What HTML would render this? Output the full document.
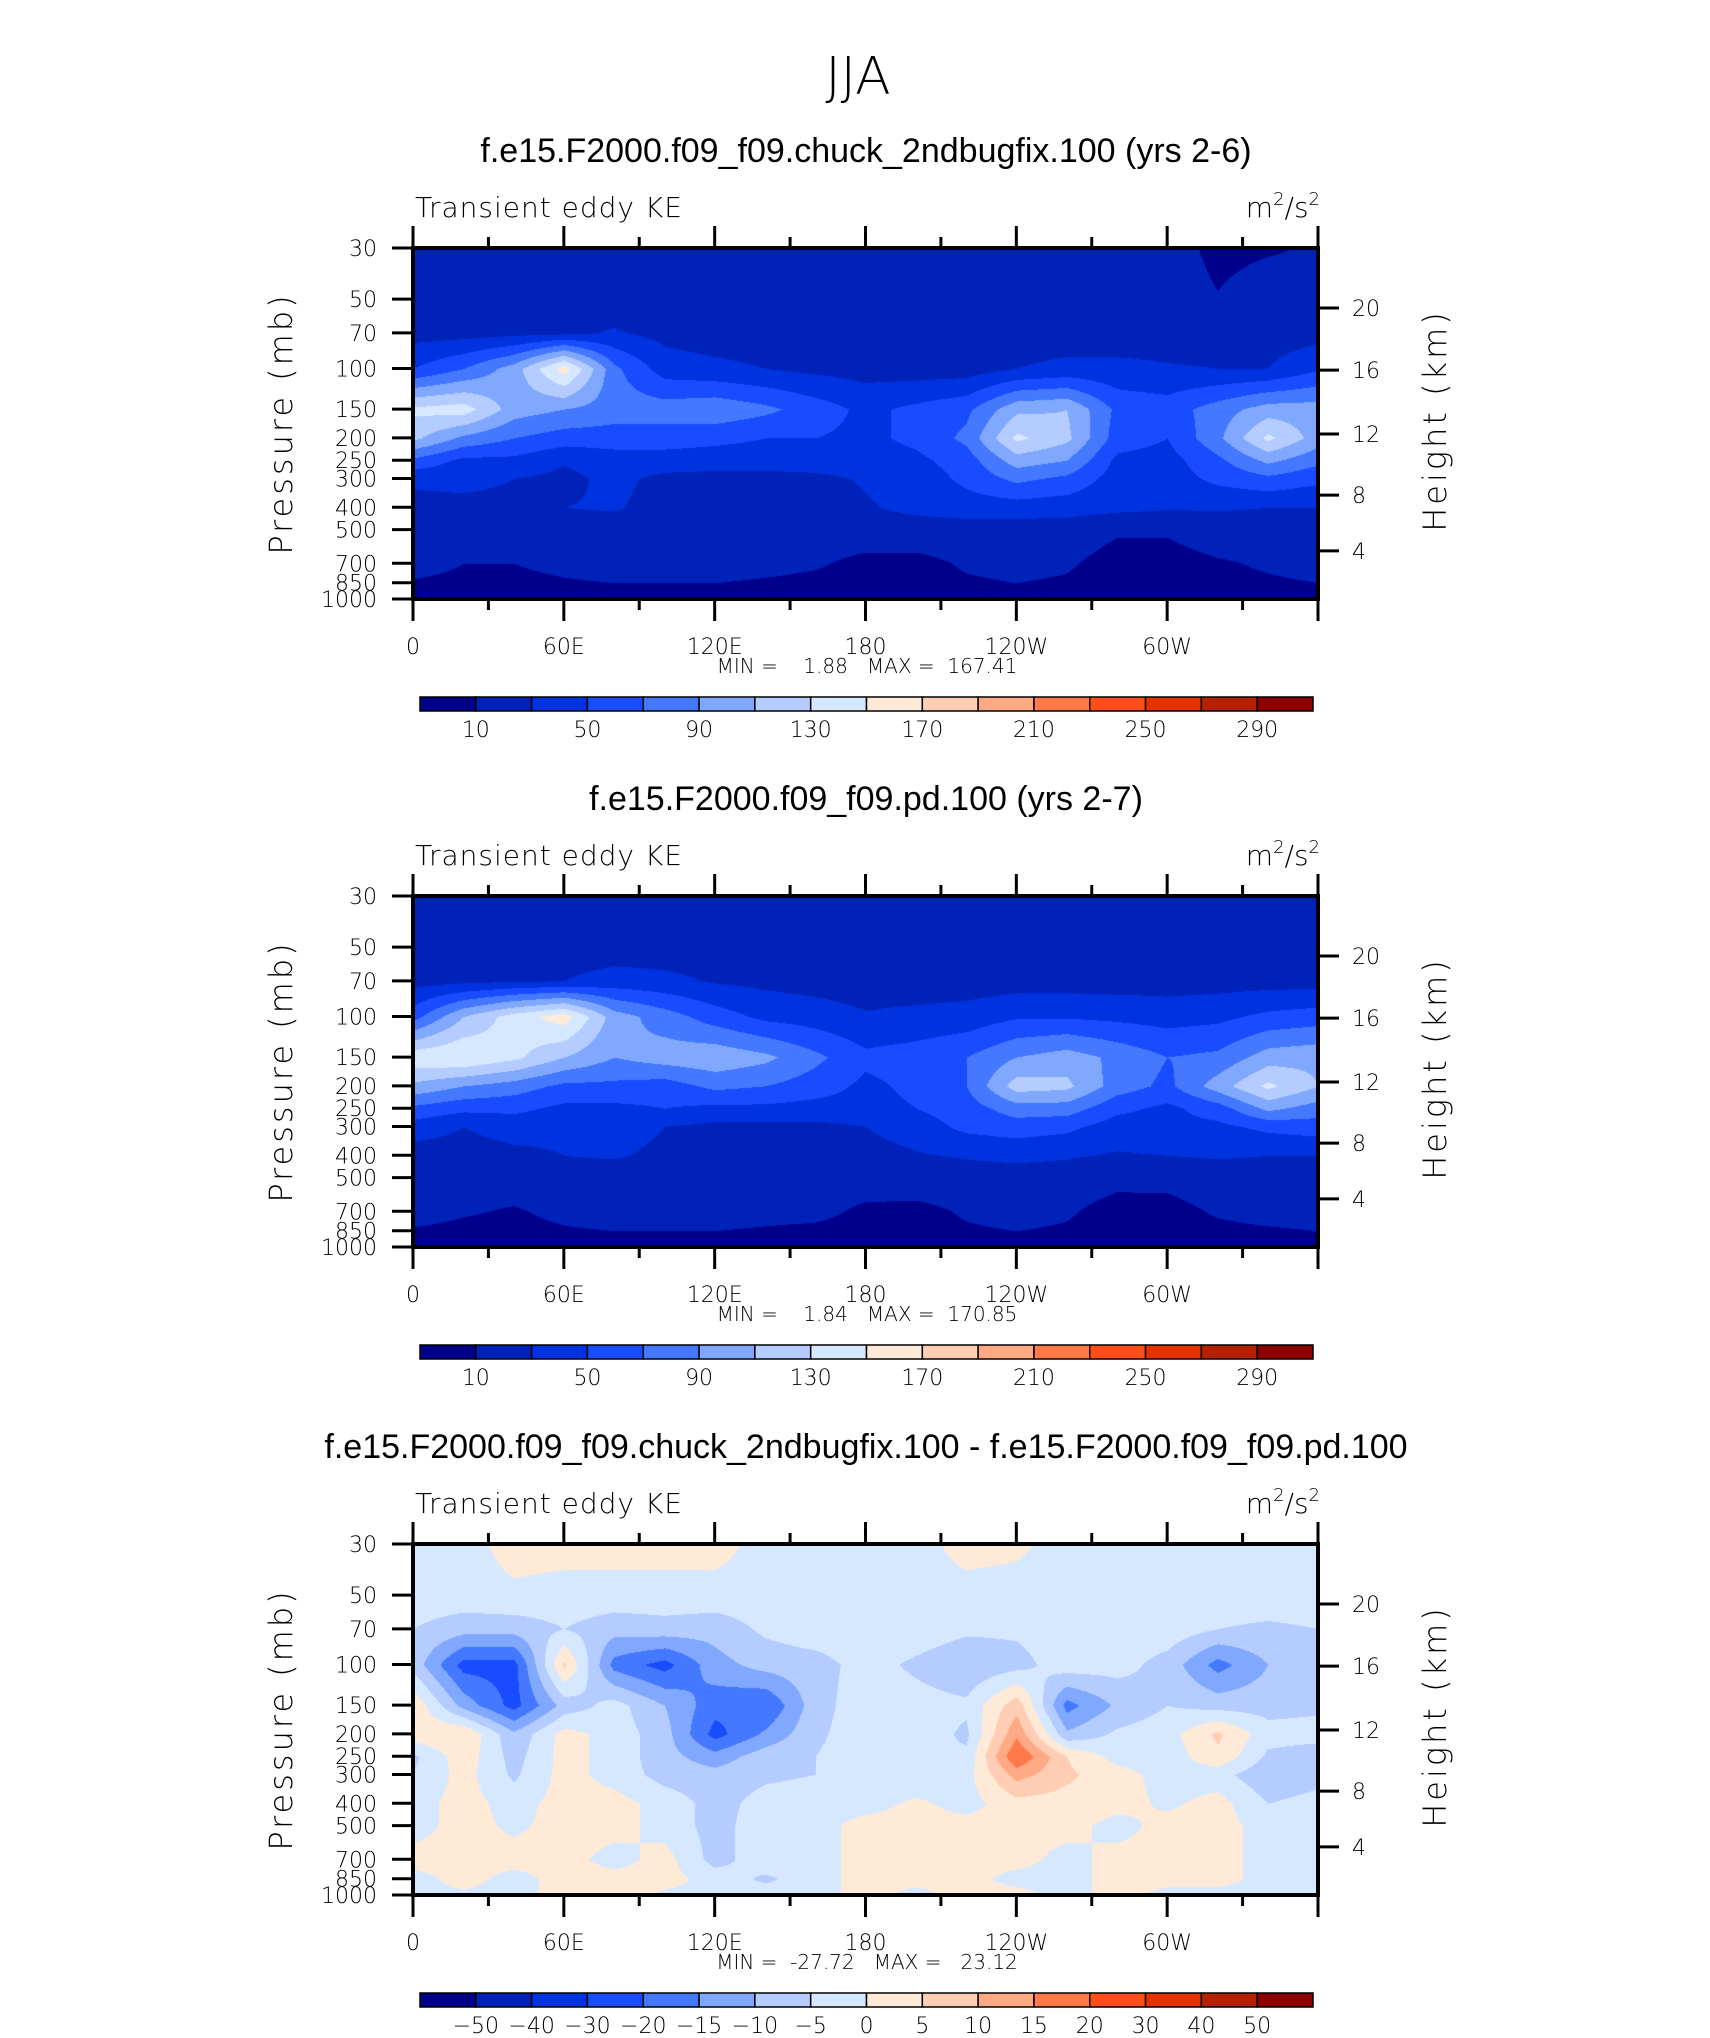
<!DOCTYPE html>
<html><head><meta charset="utf-8"><style>
html,body{margin:0;padding:0;background:#fff;}
#wrap{position:relative;width:1710px;height:2038px;overflow:hidden;}
canvas{position:absolute;}
svg{position:absolute;left:0;top:0;}
text{font-family:"Liberation Sans",sans-serif;fill:#000;}
.thin{font-family:"DejaVu Sans","Liberation Sans",sans-serif;font-weight:200;}
</style></head><body>
<div id="wrap">
<canvas id="c0" width="905" height="351" style="left:413px;top:248px"></canvas>
<canvas id="c1" width="905" height="351" style="left:413px;top:896px"></canvas>
<canvas id="c2" width="905" height="351" style="left:413px;top:1544px"></canvas>
<svg id="svg" width="1710" height="2038" xmlns="http://www.w3.org/2000/svg">
<text x="858" y="94" font-size="52" text-anchor="middle" class="thin">JJA</text>
</svg>
</div>
<script>
const lons=[0,20,40,60,80,100,120,140,160,180,200,220,240,260,280,300,320,340,360];
const plevs=[30,50,70,100,150,200,250,300,400,500,700,850,1000];
const lonLabels=["0","60E","120E","180","120W","60W"];
const pTickLabels=["30","50","70","100","150","200","250","300","400","500","700","850","1000"];
const kmTicks=["20","16","12","8","4"];
const kmFrac=[0.171,0.348,0.530,0.704,0.863];
const levelsKE=[10,30,50,70,90,110,130,150,170,190,210,230,250,270,290];
const levelsDiff=[-50,-40,-30,-20,-15,-10,-5,0,5,10,15,20,30,40,50];
const colors=["#00008C","#0022B8","#0033E0","#1A4CFF","#4478FF","#80A8FF","#B4CCFF","#D6E8FF","#FFEAD8","#FFCCB4","#FFAA84","#FF7A48","#FF4E1C","#E33200","#B52000","#8C0000"];
const titles=["f.e15.F2000.f09_f09.chuck_2ndbugfix.100 (yrs 2-6)","f.e15.F2000.f09_f09.pd.100 (yrs 2-7)","f.e15.F2000.f09_f09.chuck_2ndbugfix.100 - f.e15.F2000.f09_f09.pd.100"];
const minmax=["MIN =    1.88   MAX =  167.41","MIN =    1.84   MAX =  170.85","MIN =  -27.72   MAX =   23.12"];
const ke1=[
[12,15,20,20,20,20,20,20,20,20,20,20,20,20,20,18,5,8,12],
[20,20,20,20,20,20,20,20,20,20,20,20,20,20,20,20,11,20,20],
[22,22,24,26,32,24,20,20,20,20,20,20,20,20,20,20,20,20,22],
[50,70,100,160,75,40,35,30,25,22,20,20,30,35,35,32,30,30,48],
[135,140,100,90,80,80,85,75,60,45,55,65,105,110,65,60,80,100,100],
[115,85,70,60,60,60,55,50,50,45,55,75,135,115,60,50,85,135,100],
[65,45,45,32,40,40,40,40,40,40,45,60,100,90,45,42,65,95,75],
[35,35,30,25,35,25,22,22,25,32,38,55,75,65,40,40,55,65,55],
[22,25,25,30,32,22,20,20,22,28,35,40,40,38,35,32,32,30,30],
[20,20,20,20,20,20,20,20,20,20,20,20,20,20,12,12,20,20,20],
[18,10,10,15,18,18,18,15,12,5,5,12,15,12,3,3,8,12,15],
[8,5,5,8,10,10,10,8,6,4,4,8,10,8,3,3,6,8,10],
[5,3,2,5,5,5,6,6,6,4,4,6,6,6,2,2,5,6,6]];
const ke2=[
[20,20,20,20,20,20,20,20,20,20,20,20,20,20,20,20,20,20,20],
[20,20,20,20,20,20,20,20,20,20,20,20,20,20,20,20,20,20,20],
[22,25,28,30,38,35,28,25,22,20,20,20,21,21,21,21,22,22,22],
[62,110,140,160,100,80,60,45,40,32,35,38,48,48,45,42,45,55,60],
[145,150,135,110,90,100,105,95,75,55,60,70,90,100,85,70,75,100,105],
[105,90,80,65,65,60,75,70,60,45,55,70,120,115,80,65,100,135,110],
[65,55,55,45,45,50,45,45,42,42,50,60,80,80,55,45,60,95,80],
[40,30,38,35,40,30,25,25,25,30,40,55,60,55,40,45,45,55,60],
[20,22,25,30,32,25,20,20,20,22,28,32,35,32,28,30,32,30,30],
[20,20,20,20,20,20,20,20,20,20,20,20,20,20,15,15,20,20,20],
[18,12,8,15,18,18,18,16,15,6,5,12,16,12,3,4,12,16,18],
[8,5,4,8,10,10,10,8,6,4,4,8,10,8,3,3,6,8,10],
[5,3,2,5,5,5,6,6,6,4,4,6,6,6,2,2,5,6,6]];
const diff=[
[-2,-2,2,2,2,2,2,-2,-2,-2,-2,2,1,-2,-2,-2,-2,-2,-2],
[-2,-2,-1,-2,-2,-2,-2,-2,-2,-2,-2,-2,-2,-2,-2,-2,-2,-2,-2],
[-5,-8,-8,-5,-8,-7,-8,-4,-2,-2,-2,-4,-4,-2,-2,-2,-5,-6,-5],
[-7,-22,-22,6,-17,-22,-12,-8,-7,-3,-6,-9,-7,-2,-3,-7,-17,-10,-6],
[4,-12,-22,-8,-3,-10,-18,-20,-7,-2,-3,-4,8,-17,-9,-5,-7,-7,-6],
[3,5,-9,2,-2,-8,-22,-14,-6,-2,-2,-6,14,-9,-4,-2,6,-3,-3],
[-6,3,-7,2,-2,-8,-13,-7,-5,-2,-5,-4,20,5,-2,-3,4,-6,-8],
[-5,2,-6,2,-2,-7,-8,-6,-5,-3,-4,-2,12,6,2,-2,-3,-9,-7],
[-2,2,-2,2,2,-2,-7,-3,-2,-2,1,-2,3,3,2,-1,2,-5,-3],
[-2,2,-1,2,2,-2,-7,-2,-2,2,2,2,2,2,-2,2,2,-2,-2],
[2,2,2,2,-2,2,-7,-2,-2,2,2,2,2,-2,2,2,2,-2,-2],
[-2,2,-2,2,2,2,-2,-6,-2,2,2,2,-2,-2,2,2,2,-2,-2],
[-2,-1,-2,2,2,-1,-2,-2,-2,2,-2,2,2,-2,2,-2,-2,-2,-2]];

const W=905,H=351,L=413,TOPS=[248,896,1544];
const lp0=Math.log(30),lp1=Math.log(1000);
function yOfP(p){return (Math.log(p)-lp0)/(lp1-lp0)*H;}
function xOfLon(l){return l/360*W;}
function classify(v,lev){let k=0;while(k<lev.length&&v>=lev[k])k++;return k;}
function hex(c){return [parseInt(c.slice(1,3),16),parseInt(c.slice(3,5),16),parseInt(c.slice(5,7),16)];}
const rgb=colors.map(hex);
const plY=plevs.map(yOfP);
function draw(id,data,lev){
  const cv=document.getElementById(id),ctx=cv.getContext('2d');
  const img=ctx.createImageData(W,H);
  for(let y=0;y<H;y++){
    let j=0;while(j<plY.length-2&&y>plY[j+1])j++;
    const ty=Math.min(1,Math.max(0,(y-plY[j])/(plY[j+1]-plY[j])));
    for(let x=0;x<W;x++){
      const lf=x/W*360;let i=Math.min(lons.length-2,Math.floor(lf/20));
      const tx=(lf-lons[i])/20;
      const v=(1-ty)*((1-tx)*data[j][i]+tx*data[j][i+1])+ty*((1-tx)*data[j+1][i]+tx*data[j+1][i+1]);
      const c=rgb[classify(v,lev)];const o=(y*W+x)*4;
      img.data[o]=c[0];img.data[o+1]=c[1];img.data[o+2]=c[2];img.data[o+3]=255;
    }
  }
  ctx.putImageData(img,0,0);
}
draw('c0',ke1,levelsKE);draw('c1',ke2,levelsKE);draw('c2',diff,levelsDiff);

const svg=document.getElementById('svg'),NS="http://www.w3.org/2000/svg";
function mk(tag,attrs,txt){const e=document.createElementNS(NS,tag);for(const k in attrs)e.setAttribute(k,attrs[k]);if(txt!==undefined)e.textContent=txt;svg.appendChild(e);return e;}
for(let p=0;p<3;p++){
  const T=TOPS[p];
  let e=mk('text',{x:866,y:T-86,'font-size':34,'text-anchor':'middle'},titles[p]);
  
  
  e=mk('text',{x:415,y:T-31,'font-size':28,class:'thin','letter-spacing':'1'},'Transient eddy KE');
  
  
  e=mk('text',{x:1320,y:T-31,'font-size':28,class:'thin','text-anchor':'end'});
  e.innerHTML='m<tspan dy="-12" font-size="18">2</tspan><tspan dy="12">/s</tspan><tspan dy="-12" font-size="18">2</tspan>';
  
  
  e=mk('rect',{x:L,y:T,width:W,height:H,fill:'none',stroke:'#000','stroke-width':4});
  
  
  for(let k=0;k<=12;k++){
    const x=L+xOfLon(k*30),maj=k%2===0,len=maj?22:11;
    e=mk('line',{x1:x,y1:T-len,x2:x,y2:T,stroke:'#000','stroke-width':3});
    
    
    e=mk('line',{x1:x,y1:T+H,x2:x,y2:T+H+len,stroke:'#000','stroke-width':3});
    
    
    if(maj&&k<12){
      e=mk('text',{x:x,y:T+H+55,'font-size':22,class:'thin','text-anchor':'middle'},lonLabels[k/2]);
      
      
    }
  }
  for(let k=0;k<plevs.length;k++){
    const y=T+yOfP(plevs[k]);
    e=mk('line',{x1:L-21,y1:y,x2:L,y2:y,stroke:'#000','stroke-width':3});
    
    
    e=mk('text',{x:377,y:y+8,'font-size':22,class:'thin','text-anchor':'end'},pTickLabels[k]);
    
    
  }
  for(let k=0;k<kmTicks.length;k++){
    const y=T+kmFrac[k]*H;
    e=mk('line',{x1:L+W,y1:y,x2:L+W+21,y2:y,stroke:'#000','stroke-width':3});
    
    
    e=mk('text',{x:L+W+34,y:y+8,'font-size':22,class:'thin'},kmTicks[k]);
    
    
  }
  e=mk('text',{x:0,y:0,'font-size':32,class:'thin','text-anchor':'middle','letter-spacing':'3',transform:`translate(292,${T+H/2}) rotate(-90)`},'Pressure (mb)');
  
  
  e=mk('text',{x:0,y:0,'font-size':32,class:'thin','text-anchor':'middle','letter-spacing':'3',transform:`translate(1446,${T+H/2-3}) rotate(-90)`},'Height (km)');
  
  
  e=mk('text',{x:867,y:T+H+74,'font-size':20,class:'thin','text-anchor':'middle','xml:space':'preserve'},minmax[p]);
  e.style.whiteSpace='pre';
  
  
  const cy=T+449,cx0=420,cw=893,bw=cw/16;
  const lev=p<2?levelsKE:levelsDiff;
  for(let k=0;k<16;k++){
    e=mk('rect',{x:cx0+k*bw,y:cy,width:bw,height:14,fill:colors[k],stroke:'#000','stroke-width':1.5});
    
    
  }
  for(let k=0;k<lev.length;k++){
    if(p<2&&k%2===1)continue;
    e=mk('text',{x:cx0+(k+1)*bw,y:cy+40,'font-size':22,class:'thin','text-anchor':'middle'},String(lev[k]).replace('-','\u2212'));
    
    
  }
}
</script>
</body></html>
